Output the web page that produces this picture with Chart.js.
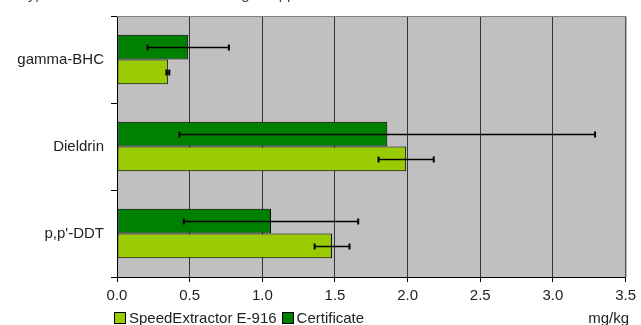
<!DOCTYPE html>
<html lang="en">
<head>
  <meta charset="UTF-8">
  <title>Pesticides: SpeedExtractor vs Certificate</title>
  <script src="https://cdn.jsdelivr.net/npm/chart.js"></script>
  <style>
    body { margin: 0; background: #fff; font-family: "Liberation Sans", Arial, sans-serif; }
    .wrap { position: relative; width: 641px; height: 325px; overflow: hidden; }
    .title { position: absolute; left: 28px; top: -15px; font-size: 15px; color: #444; white-space: nowrap; }
    .legend { position: absolute; left: 114px; top: 309px; font-size: 15px; color: #222; display: flex; align-items: center; }
    .legend span.box { display: inline-block; width: 10px; height: 10px; border: 1px solid #000; margin-right: 3px; }
    .legend span.txt { margin-right: 5px; }
    .unit { position: absolute; right: 12px; top: 309px; font-size: 15px; color: #222; }
  </style>
</head>
<body>
  <div class="wrap">
    <canvas id="chart" width="641" height="325"></canvas>
    <div class="title">y) The obtained results according to application note 058</div>
    <div class="legend">
      <span class="box" style="background:#99CC00"></span><span class="txt">SpeedExtractor E-916</span>
      <span class="box" style="background:#008000"></span><span class="txt">Certificate</span>
    </div>
    <div class="unit">mg/kg</div>
  </div>

  <script>
    // data
    const compounds = ['gamma-BHC', 'Dieldrin', "p,p'-DDT"];
    const certValues = [0.49, 1.86, 1.06];
    const certErrors = [0.28, 1.43, 0.60];
    const speedValues = [0.35, 1.99, 1.48];
    const speedErrors = [0.01, 0.19, 0.12];
    const xTicks = [0, 0.5, 1.0, 1.5, 2.0, 2.5, 3.0, 3.5];

    const errors = [certErrors, speedErrors];

    // grey plot background + frame
    const plotBg = {
      id: 'plotBg',
      beforeDraw(chart) {
        const { ctx, chartArea: a } = chart;
        ctx.save();
        ctx.fillStyle = '#C0C0C0';
        ctx.fillRect(a.left, a.top, a.right - a.left, a.bottom - a.top);
        ctx.restore();
      },
      afterDraw(chart) {
        const { ctx, chartArea: a } = chart;
        ctx.save();
        ctx.strokeStyle = '#808080';
        ctx.lineWidth = 1;
        ctx.beginPath();
        ctx.moveTo(a.left, a.top + 0.5);
        ctx.lineTo(a.right + 0.5, a.top + 0.5);
        ctx.lineTo(a.right + 0.5, a.bottom);
        ctx.stroke();
        ctx.restore();
      }
    };

    // error bars
    const errorBars = {
      id: 'errorBars',
      afterDatasetsDraw(chart) {
        const { ctx } = chart;
        const xs = chart.scales.x;
        ctx.save();
        ctx.strokeStyle = '#000';
        chart.data.datasets.forEach((ds, i) => {
          const meta = chart.getDatasetMeta(i);
          meta.data.forEach((bar, j) => {
            const v = ds.data[j], e = errors[i][j];
            const x1 = xs.getPixelForValue(v - e);
            const x2 = xs.getPixelForValue(v + e);
            const y = Math.round(bar.y) + 0.5;
            ctx.lineWidth = 1.5;
            ctx.beginPath();
            ctx.moveTo(x1, y); ctx.lineTo(x2, y);
            ctx.stroke();
            ctx.lineWidth = 2;
            ctx.beginPath();
            ctx.moveTo(x1, y - 3); ctx.lineTo(x1, y + 3);
            ctx.moveTo(x2, y - 3); ctx.lineTo(x2, y + 3);
            ctx.stroke();
          });
        });
        ctx.restore();
      }
    };

    new Chart(document.getElementById('chart'), {
      type: 'bar',
      data: {
        labels: compounds,
        datasets: [
          { label: 'Certificate', data: certValues, backgroundColor: '#008000' },
          { label: 'SpeedExtractor E-916', data: speedValues, backgroundColor: '#99CC00' }
        ]
      },
      options: {
        indexAxis: 'y',
        responsive: false,
        animation: false,
        layout: { padding: { top: 14, right: 13, left: 0, bottom: 0 } },
        datasets: {
          bar: {
            categoryPercentage: 0.57,
            barPercentage: 1,
            borderColor: '#000',
            borderWidth: 1,
            borderSkipped: false
          }
        },
        plugins: {
          legend: { display: false },
          tooltip: { enabled: false }
        },
        scales: {
          x: {
            min: 0,
            max: 3.5,
            afterFit(scale) { scale.height = 48; },
            afterBuildTicks(scale) { scale.ticks = xTicks.map(v => ({ value: v })); },
            grid: { color: '#333', tickColor: '#000', tickLength: 5, drawTicks: true },
            border: { color: '#000', width: 1 },
            ticks: {
              color: '#222',
              padding: 5,
              font: { family: '"Liberation Sans", Arial, sans-serif', size: 15 },
              callback: v => Number(v).toFixed(1)
            }
          },
          y: {
            afterFit(scale) { scale.width = 117; },
            grid: { offset: true, drawOnChartArea: false, drawTicks: true, tickLength: 6, tickColor: '#000' },
            border: { color: '#000', width: 1 },
            ticks: {
              color: '#222',
              padding: 7,
              font: { family: '"Liberation Sans", Arial, sans-serif', size: 15 }
            }
          }
        }
      },
      plugins: [plotBg, errorBars]
    });
  </script>
</body>
</html>
